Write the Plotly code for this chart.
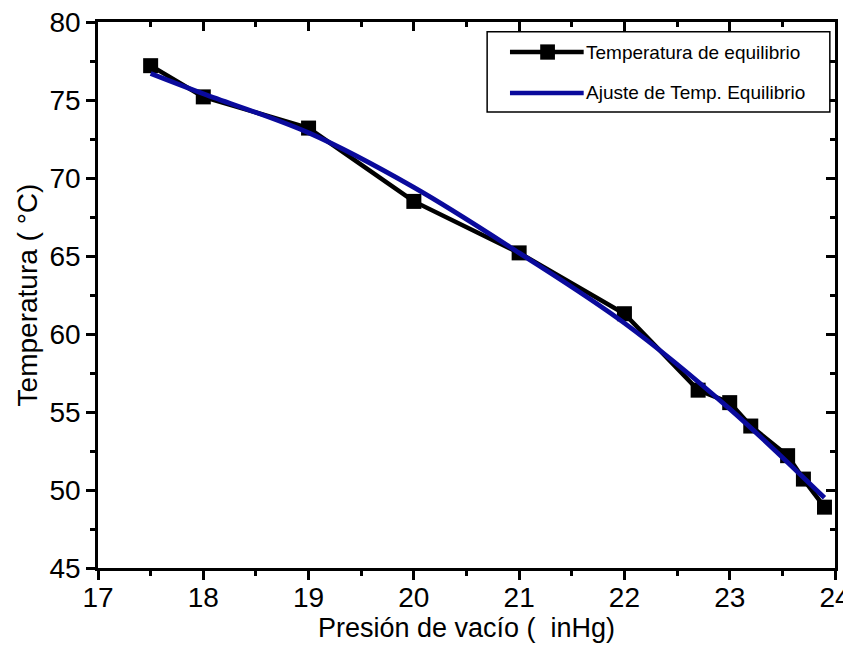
import plotly.graph_objects as go

# Data
presion = [17.5, 18.0, 19.0, 20.0, 21.0, 22.0, 22.7, 23.0, 23.2, 23.55, 23.7, 23.9]
temperatura = [77.2, 75.2, 73.2, 68.5, 65.2, 61.3, 56.4, 55.6, 54.1, 52.2, 50.7, 48.9]

ajuste_x = [17.5, 18.0, 19.0, 20.0, 21.0, 22.0, 23.0, 23.9]
ajuste_y = [76.7, 75.4, 72.9, 69.4, 65.2, 60.7, 55.2, 49.5]

serie_1 = "Temperatura de equilibrio"
serie_2 = "Ajuste de Temp. Equilibrio"
x_title = "Presión de vacío (  inHg)"
y_title = "Temperatura ( °C)"

FONT = "Liberation Sans, Arial, Helvetica, sans-serif"
BLUE = "#0a0a9c"

fig = go.Figure()
fig.add_trace(go.Scatter(
    x=presion, y=temperatura, mode="lines+markers", name=serie_1,
    line=dict(color="black", width=4.5),
    marker=dict(symbol="square", size=15, color="black"),
    showlegend=False,
))
fig.add_trace(go.Scatter(
    x=ajuste_x, y=ajuste_y, mode="lines", name=serie_2,
    line=dict(color=BLUE, width=4.8, shape="spline"),
    showlegend=False,
))
# dummy trace so the mirrored top/right axes are drawn
fig.add_trace(go.Scatter(x=[None], y=[None], xaxis="x2", yaxis="y2",
                         showlegend=False, hoverinfo="skip"))

axis_common = dict(showgrid=False, zeroline=False, showline=True,
                   linecolor="black", linewidth=2.5, automargin=False)

# the page body adds an 8px offset, so the figure is 8px smaller each way
fig.update_layout(
    width=843, height=650,
    margin=dict(l=90, r=16, t=14, b=90),
    paper_bgcolor="white", plot_bgcolor="white",
    font=dict(family=FONT, color="black"),
    xaxis=dict(
        range=[17, 24], dtick=1, tick0=17, ticks="outside", ticklen=9,
        tickwidth=2.5, tickcolor="black", ticklabelstandoff=-6,
        ticklabeloverflow="allow",
        tickfont=dict(size=28, family=FONT),
        minor=dict(dtick=0.5, ticks="outside", ticklen=5, tickwidth=2.5, tickcolor="black"),
        title=dict(text=x_title, font=dict(size=27, family=FONT), standoff=4),
        **axis_common,
    ),
    yaxis=dict(
        range=[45, 80], dtick=5, tick0=45, ticks="outside", ticklen=9,
        tickwidth=2.5, tickcolor="black", ticklabeloverflow="allow",
        tickfont=dict(size=28, family=FONT),
        minor=dict(dtick=2.5, ticks="outside", ticklen=5, tickwidth=2.5, tickcolor="black"),
        title=dict(text=y_title, font=dict(size=28, family=FONT), standoff=4),
        **axis_common,
    ),
    xaxis2=dict(
        overlaying="x", side="top", range=[17, 24], dtick=1, tick0=17,
        ticks="inside", ticklen=9, tickwidth=2.5, tickcolor="black",
        minor=dict(dtick=0.5, ticks="inside", ticklen=5, tickwidth=2.5, tickcolor="black"),
        showticklabels=False, **axis_common,
    ),
    yaxis2=dict(
        overlaying="y", side="right", range=[45, 80], dtick=5, tick0=45,
        ticks="inside", ticklen=9, tickwidth=2.5, tickcolor="black",
        minor=dict(dtick=2.5, ticks="inside", ticklen=5, tickwidth=2.5, tickcolor="black"),
        showticklabels=False, **axis_common,
    ),
)

# Manual legend (box, line samples, marker, labels) in paper coordinates
fig.add_shape(type="rect", xref="paper", yref="paper", x0=0.528, x1=0.993,
              y0=0.835, y1=0.982, line=dict(color="black", width=1.5),
              fillcolor="white", layer="above")
fig.add_shape(type="line", xref="paper", yref="paper", x0=0.559, x1=0.659,
              y0=0.945, y1=0.945, line=dict(color="black", width=4.5))
fig.add_shape(type="rect", xref="paper", yref="paper", x0=0.600, x1=0.620,
              y0=0.931, y1=0.959, line=dict(color="black", width=0),
              fillcolor="black")
fig.add_shape(type="line", xref="paper", yref="paper", x0=0.559, x1=0.659,
              y0=0.870, y1=0.870, line=dict(color=BLUE, width=4.5))
fig.add_annotation(xref="paper", yref="paper", x=0.659, y=0.945, text=serie_1,
                   showarrow=False, xanchor="left", yanchor="middle",
                   font=dict(size=19, family=FONT, color="black"))
fig.add_annotation(xref="paper", yref="paper", x=0.659, y=0.870, text=serie_2,
                   showarrow=False, xanchor="left", yanchor="middle",
                   font=dict(size=19, family=FONT, color="black"))

fig.write_html("out.html")
